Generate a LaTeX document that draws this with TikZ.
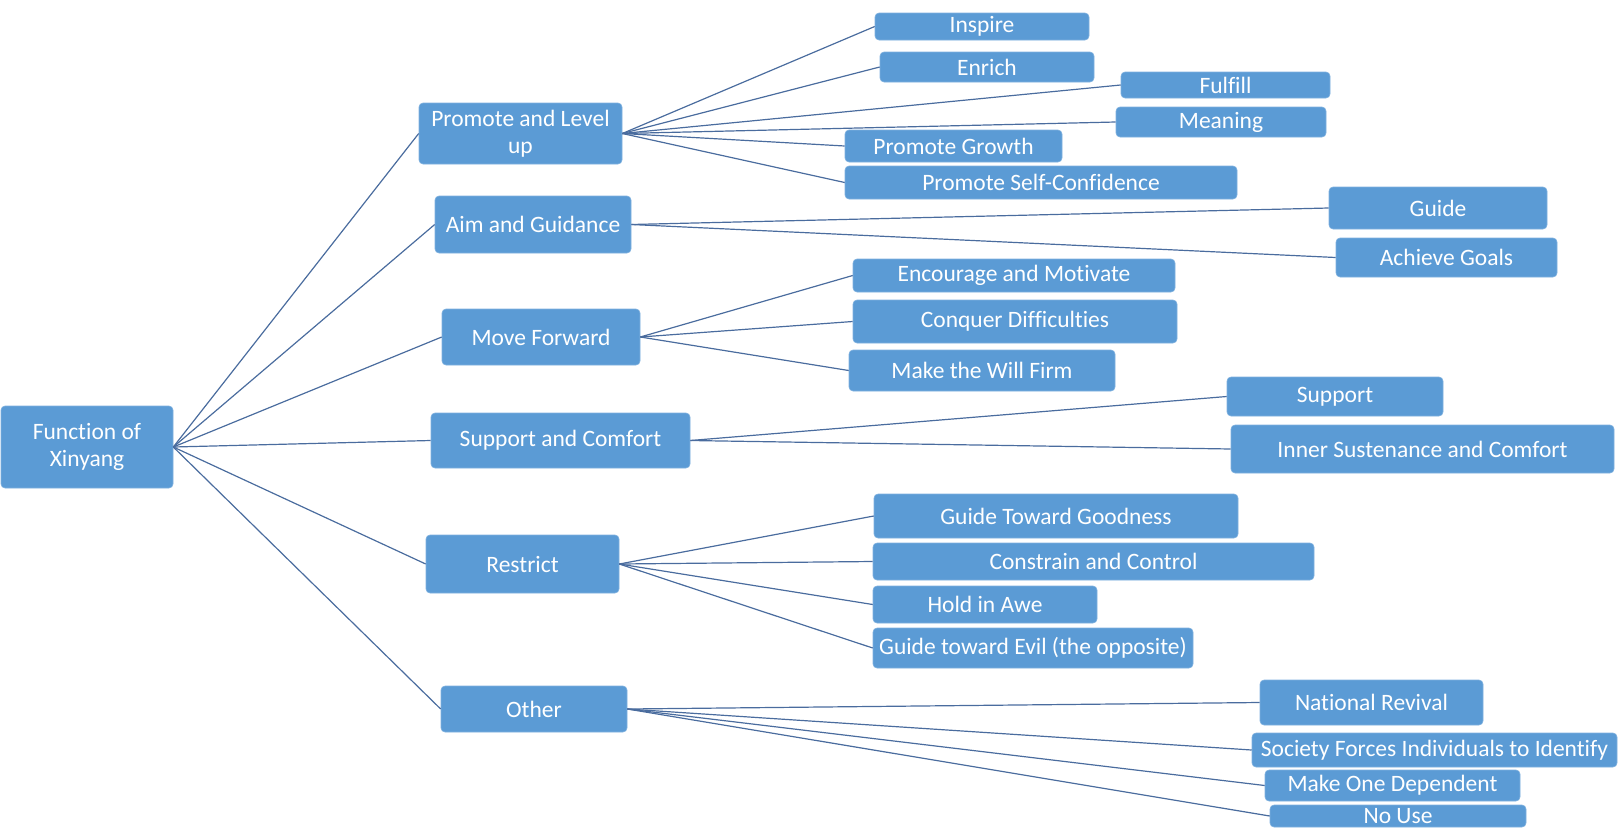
\documentclass[tikz,border=0pt]{standalone}
\usepackage{fontspec}
\setmainfont{Carlito}[Ligatures={NoCommon}]
\definecolor{boxblue}{HTML}{5B9BD5}
\definecolor{boxedge}{HTML}{7FB1DF}
\definecolor{linkcol}{HTML}{4A6C9E}
\tikzset{
  box/.style={rectangle, rounded corners=4pt, fill=boxblue, draw=boxedge, line width=0.6pt,
    text=white, inner sep=0pt, align=center, font=\fontsize{23.5}{27}\selectfont},
  link/.style={draw=linkcol, line width=1.2pt}
}
% \mybox{name}{x1}{y1}{x2}{y2}{text}
\newcommand\mybox[6]{\node[box, minimum width={(#4-#2)*1pt}, minimum height={(#5-#3)*1pt}]
  (#1) at ({(#2+#4)/2},{(#3+#5)/2}) {#6};}
\begin{document}
\begin{tikzpicture}[x=1pt,y=-1pt]
\useasboundingbox (0,0) rectangle (1619,828);
\clip (0,0) rectangle (1619,828);
% root
\mybox{root}{1}{406}{173}{488}{Function of\\Xinyang}
% first level
\mybox{pl}{419}{103}{622}{164}{Promote and Level\\up}
\mybox{ag}{435}{196}{631}{253}{Aim and Guidance}
\mybox{mf}{442}{309}{640}{365}{Move Forward}
\mybox{sc}{431}{413}{690}{468}{Support and Comfort}
\mybox{rs}{426}{535}{619}{593}{Restrict}
\mybox{ot}{441}{686}{627}{732}{Other}
% leaves: Promote and Level up
\mybox{inspire}{875}{13}{1089}{40}{Inspire}
\mybox{enrich}{880}{52}{1094}{82}{Enrich}
\mybox{fulfill}{1121}{72}{1330}{98}{Fulfill}
\mybox{meaning}{1116}{107}{1326}{137}{Meaning}
\mybox{pgrowth}{845}{130}{1062}{162}{Promote Growth}
\mybox{pself}{845}{166}{1237}{199}{Promote Self-Confidence}
% Aim and Guidance
\mybox{guide}{1329}{187}{1547}{229}{Guide}
\mybox{achieve}{1336}{238}{1557}{277}{Achieve Goals}
% Move Forward
\mybox{encourage}{853}{259}{1175}{292}{Encourage and Motivate}
\mybox{conquer}{853}{300}{1177}{343}{Conquer Difficulties}
\mybox{makewill}{849}{350}{1115}{391}{Make the Will Firm}
% Support and Comfort
\mybox{support}{1227}{377}{1443}{416}{Support}
\mybox{inner}{1231}{425}{1614}{473}{Inner Sustenance and Comfort}
% Restrict
\mybox{goodness}{874}{494}{1238}{538}{Guide Toward Goodness}
\mybox{constrain}{873}{543}{1314}{580}{Constrain and Control}
\mybox{awe}{873}{586}{1097}{623}{Hold in Awe}
\mybox{evil}{873}{628}{1193}{668}{Guide toward Evil (the opposite)}
% Other
\mybox{national}{1260}{680}{1483}{725}{National Revival}
\mybox{society}{1252}{733}{1617}{767}{Society Forces Individuals to Identify}
\mybox{makedep}{1265}{770}{1520}{801}{Make One Dependent}
\mybox{nouse}{1270}{805}{1526}{827}{No Use}
% connectors
\foreach \c in {pl,ag,mf,sc,rs,ot} \draw[link] (root.east) -- (\c.west);
\foreach \c in {inspire,enrich,fulfill,meaning,pgrowth,pself} \draw[link] (pl.east) -- (\c.west);
\foreach \c in {guide,achieve} \draw[link] (ag.east) -- (\c.west);
\foreach \c in {encourage,conquer,makewill} \draw[link] (mf.east) -- (\c.west);
\foreach \c in {support,inner} \draw[link] (sc.east) -- (\c.west);
\foreach \c in {goodness,constrain,awe,evil} \draw[link] (rs.east) -- (\c.west);
\foreach \c in {national,society,makedep,nouse} \draw[link] (ot.east) -- (\c.west);
\end{tikzpicture}
\end{document}
